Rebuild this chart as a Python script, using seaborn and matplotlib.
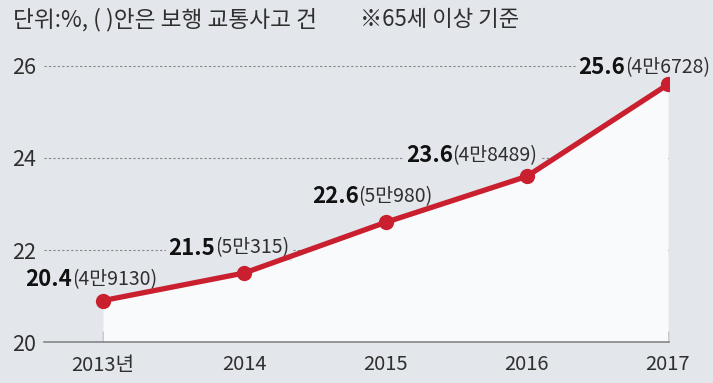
import matplotlib
matplotlib.use("Agg")
import matplotlib.pyplot as plt
import seaborn as sns
import pandas as pd

years = [2013, 2014, 2015, 2016, 2017]
year_labels = ["2013년", "2014", "2015", "2016", "2017"]
values = [20.9, 21.5, 22.6, 23.6, 25.6]          # plotted positions as drawn
rate_labels = ["20.4", "21.5", "22.6", "23.6", "25.6"]
count_labels = ["(4만9130)", "(5만315)", "(5만980)", "(4만8489)", "(4만6728)"]
yticks = [20, 22, 24, 26]

# label placement (pixels, relative to point): split point x offset, y offset
label_dx = [-31, -29, -27, -74, -43]
label_dy = [21, 25, 26, 21, 17]

BG = "#e3e6eb"
FILL = "#f9fafc"
RED = "#c91f2e"
TXT = "#2f2f2f"

sns.set_theme(style="white")
plt.rcParams['font.family'] = ['Noto Sans CJK KR', 'DejaVu Sans']

fig = plt.figure(figsize=(7.13, 3.83), dpi=100)
fig.patch.set_facecolor(BG)
ax = fig.add_axes([44/713, 41/383, 625/713, 312/383])
ax.set_facecolor(BG)

df = pd.DataFrame({"year": years, "value": values})

ax.fill_between(years, values, 20, color=FILL, zorder=1, linewidth=0)
sns.lineplot(data=df, x="year", y="value", ax=ax, color=RED, linewidth=3.8,
             marker="o", markersize=11, markeredgewidth=0, zorder=4)

ax.set_xlim(2013 - 59/141.25, 2017 + 1/141.25)
ax.set_ylim(20, 20 + 312/46)
ax.set_yticks(yticks)
ax.set_yticklabels([str(t) for t in yticks], fontsize=15.5, color=TXT)
ax.set_xticks(years)
ax.set_xticklabels(year_labels, fontsize=14.5, color=TXT)
ax.set_xlabel("")
ax.set_ylabel("")

for sp in ["top", "right", "left"]:
    ax.spines[sp].set_visible(False)
ax.spines["bottom"].set_color("#858585")
ax.spines["bottom"].set_linewidth(1.2)
ax.spines["bottom"].set_zorder(5)

ax.tick_params(axis="x", direction="in", length=8, width=1, color="#9a9a9a",
               pad=9, bottom=True)
ax.tick_params(axis="y", length=0, pad=6)

for y in yticks[1:]:
    ax.axhline(y, color="#858585", linewidth=0.8, linestyle=(0, (2, 2)), zorder=0.5)

for x, y, r, c, dx, dy in zip(years, values, rate_labels, count_labels, label_dx, label_dy):
    ax.annotate(c, (x, y), xytext=(dx, dy), textcoords="offset pixels",
                ha="left", va="center", fontsize=14, color=TXT,
                bbox=dict(boxstyle="square,pad=0.12", fc=BG, ec="none"), zorder=3)
    ax.annotate(r, (x, y), xytext=(dx, dy), textcoords="offset pixels",
                ha="right", va="center", fontsize=16, fontweight="bold", color="#111111",
                bbox=dict(boxstyle="square,pad=0.12", fc=BG, ec="none"), zorder=3.2)

fig.text(13/713, 1 - 20/383, "단위:%, ( )안은 보행 교통사고 건", fontsize=16.3,
         color=TXT, ha="left", va="center")
fig.text(360/713, 1 - 20/383, "※65세 이상 기준", fontsize=16,
         color=TXT, ha="left", va="center")

fig.savefig("out.png", dpi=100, facecolor=BG)
